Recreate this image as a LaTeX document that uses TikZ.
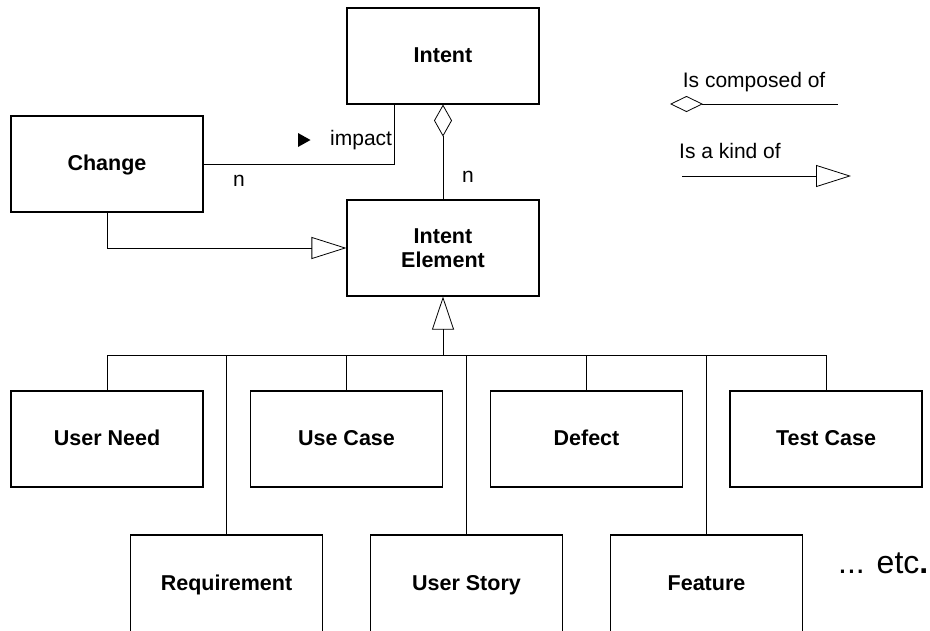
\documentclass[tikz,border=0pt]{standalone}
\usepackage{fontspec}
\setmainfont{Liberation Sans}
\usetikzlibrary{arrows.meta}
\begin{document}
\begin{tikzpicture}[x=1pt,y=-1pt,
  box/.style={draw, line width=1.1pt, minimum width=192pt, minimum height=96pt, inner sep=0pt,
    font=\fontsize{21.5}{24.4}\selectfont\bfseries, align=center, text height=15.4pt, text depth=2pt},
  lowbox/.style={box, minimum height=104pt, text depth=8pt},
  lbl/.style={font=\fontsize{21}{24}\selectfont, inner sep=0pt, anchor=base west},
  conn/.style={line width=0.8pt},
  gen/.style={conn, -{Triangle[open, length=35pt, width=22pt]}},
  genup/.style={conn, -{Triangle[open, length=33pt, width=22pt]}},
  comp/.style={conn, {Diamond[open, length=32pt, width=18pt]}-},
  legcomp/.style={conn, {Diamond[open, length=33pt, width=16pt]}-},
]
\useasboundingbox (0,0) rectangle (930,630);
\fill[white] (0,0) rectangle (930,630);

% boxes
\node[box] (intent) at (443,56) {Intent};
\node[box] (change) at (107,164) {Change};
\node[box, text height=, text depth=] (ie) at (443,248) {Intent\\Element};
\node[box] (un) at (107,439) {User Need};
\node[box] (uc) at (346.5,439) {Use Case};
\node[box] (def) at (586.5,439) {Defect};
\node[box] (tc) at (826,439) {Test Case};
\node[lowbox] (req) at (226.5,587) {Requirement};
\node[lowbox] (us) at (466.5,587) {User Story};
\node[lowbox] (feat) at (706.5,587) {Feature};

% associations
\draw[conn] (change.east) -| ([xshift=47.5pt]intent.south west);
\draw[comp] (intent.south) -- (ie.north);
\draw[gen] (change.south) |- (ie.west);

% generalization tree
\coordinate (bus) at (443,355);
\draw[genup] (ie.south |- bus) -- (ie.south);
\draw[conn] (un.north) |- (tc.north |- bus) -- (tc.north);
\foreach \n in {uc,def,req,us,feat}{
  \draw[conn] (\n.north) -- (\n.north |- bus);
}

% labels
\fill (298,133) -- (310.5,140) -- (298,147) -- cycle;
\node[lbl] (impact) at (330,145.7) {impact};
\node[lbl] (n1) at (233,186.7) {n};
\node[lbl] (n2) at (462,182.3) {n};

% legend
\node[lbl] (lc) at (682.7,87.3) {Is composed of};
\coordinate (lcA) at (670,104);
\coordinate (lcB) at (838,104);
\draw[legcomp] (lcA) -- (lcB);
\node[lbl] (lk) at (679,158.3) {Is a kind of};
\coordinate (lkA) at (682,176);
\coordinate (lkB) at (851,176);
\draw[gen] (lkA) -- (lkB);

\node[anchor=base west, inner sep=0pt, font=\fontsize{32}{32}\selectfont] (etc) at (838,573) {... etc\textbf{.}};
\end{tikzpicture}
\end{document}
